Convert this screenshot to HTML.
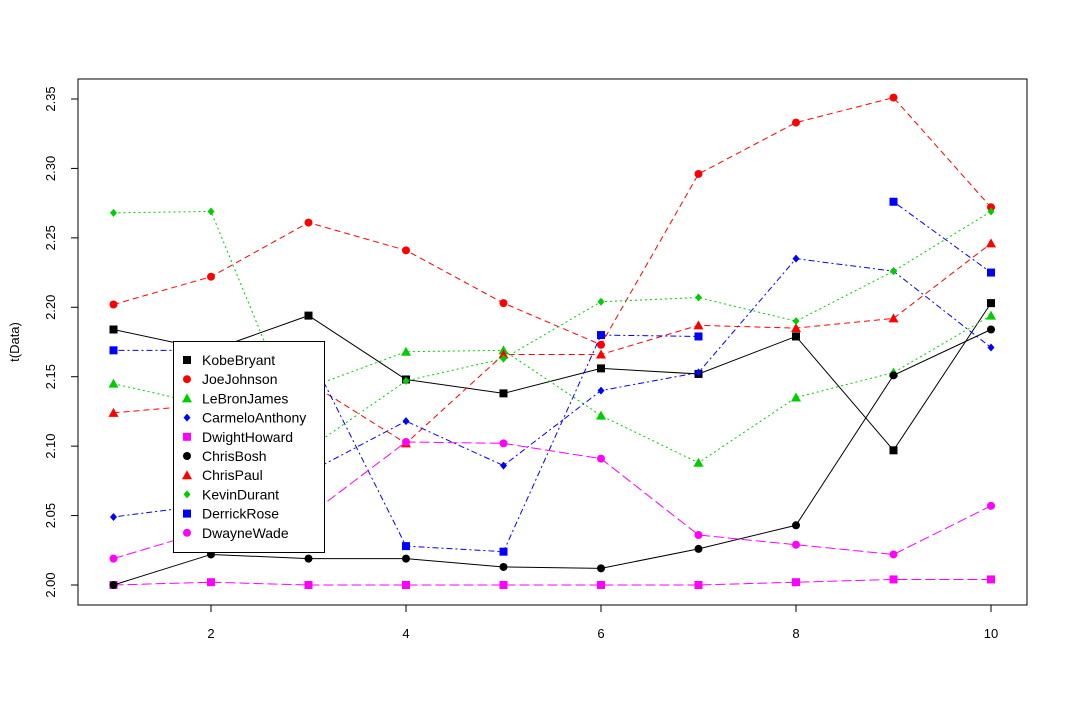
<!DOCTYPE html>
<html><head><meta charset="utf-8"><style>
html,body{margin:0;padding:0;background:#fff;}
svg{display:block;font-family:"Liberation Sans",Arial,sans-serif;}
</style></head><body>
<svg id="chart" width="1067" height="703" viewBox="0 0 1067 703"></svg>
<script>
const xValues=[1,2,3,4,5,6,7,8,9,10];
const kobeBryant=[2.184,2.169,2.194,2.148,2.138,2.156,2.152,2.179,2.097,2.203];
const joeJohnson=[2.202,2.222,2.261,2.241,2.203,2.173,2.296,2.333,2.351,2.272];
const lebronJames=[2.145,2.129,2.142,2.168,2.169,2.122,2.088,2.135,2.153,2.194];
const carmeloAnthony=[2.049,2.058,2.081,2.118,2.086,2.140,2.153,2.235,2.226,2.171];
const dwightHoward=[2.000,2.002,2.000,2.000,2.000,2.000,2.000,2.002,2.004,2.004];
const chrisBosh=[2.000,2.022,2.019,2.019,2.013,2.012,2.026,2.043,2.151,2.184];
const chrisPaul=[2.124,2.130,2.146,2.102,2.166,2.166,2.187,2.185,2.192,2.246];
const kevinDurant=[2.268,2.269,2.098,2.147,2.163,2.204,2.207,2.190,2.226,2.269];
const derrickRose=[2.169,2.169,2.168,2.028,2.024,2.180,2.179,null,2.276,2.225];
const dwayneWade=[2.019,2.040,2.050,2.103,2.102,2.091,2.036,2.029,2.022,2.057];
const seriesNames=["KobeBryant","JoeJohnson","LeBronJames","CarmeloAnthony","DwightHoward","ChrisBosh","ChrisPaul","KevinDurant","DerrickRose","DwayneWade"];
const yTicks=[2.00,2.05,2.10,2.15,2.20,2.25,2.30,2.35];
const xTicks=[2,4,6,8,10];

const NS="http://www.w3.org/2000/svg";
const svg=document.getElementById('chart');
function X(v){return 113.5+(v-1)*97.5;}
function Y(v){return 585-(v-2)*1388.6;}
function mk(t,a,p){const e=document.createElementNS(NS,t);for(const k in a)e.setAttribute(k,a[k]);(p||svg).appendChild(e);return e;}

const styles=[
 {c:"#000000",d:"",p:"sq"},{c:"#ff0000",d:"6 4",p:"ci"},{c:"#00cd00",d:"2 3",p:"tr"},
 {c:"#0000ff",d:"2 3 6 3",p:"di"},{c:"#ff00ff",d:"10 4",p:"sq"},{c:"#000000",d:"",p:"ci"},
 {c:"#ff0000",d:"6 4",p:"tr"},{c:"#00cd00",d:"2 3",p:"di"},{c:"#0000ff",d:"2 3 6 3",p:"sq"},
 {c:"#ff00ff",d:"10 4",p:"ci"}];
const data=[kobeBryant,joeJohnson,lebronJames,carmeloAnthony,dwightHoward,chrisBosh,chrisPaul,kevinDurant,derrickRose,dwayneWade];

function marker(g,type,x,y,c){
 let e;
 if(type==="sq")e=mk('rect',{x:x-4,y:y-4,width:8,height:8,fill:c},g);
 else if(type==="ci")e=mk('circle',{cx:x,cy:y,r:4,fill:c},g);
 else if(type==="tr")e=mk('polygon',{points:`${x},${y-5} ${x+5},${y+4} ${x-5},${y+4}`,fill:c},g);
 else e=mk('polygon',{points:`${x},${y-4} ${x+3.5},${y} ${x},${y+4} ${x-3.5},${y}`,fill:c},g);
 return e;
}

// axes box
const box=mk('rect',{x:78,y:79,width:949,height:526,fill:"none",stroke:"#000","stroke-width":1});



const yAxis=mk('g',{});


mk('line',{x1:78,x2:78,y1:Y(2),y2:Y(2.35),stroke:"#000"},yAxis);
yTicks.forEach(t=>{
 const y=Y(t);
 mk('line',{x1:71,x2:78,y1:y,y2:y,stroke:"#000"},yAxis);
 const tx=mk('text',{x:55,y:y,'font-size':13,'text-anchor':'middle',transform:`rotate(-90 55 ${y})`},yAxis);
 tx.textContent=t.toFixed(2);
 
 
});
const xAxis=mk('g',{});


mk('line',{x1:X(2),x2:X(10),y1:605,y2:605,stroke:"#000"},xAxis);
xTicks.forEach(t=>{
 const x=X(t);
 mk('line',{x1:x,x2:x,y1:605,y2:612,stroke:"#000"},xAxis);
 const tx=mk('text',{x:x,y:638,'font-size':13,'text-anchor':'middle'},xAxis);
 tx.textContent=t;
 
 
});
const yl=mk('text',{x:19,y:342,'font-size':13,'text-anchor':'middle',transform:'rotate(-90 19 342)'});
yl.textContent="t(Data)";



data.forEach((arr,i)=>{
 const s=styles[i];
 const g=mk('g',{});
 
 
 let seg=[];
 const flush=()=>{ if(seg.length>1){const pl=mk('polyline',{points:seg.join(' '),fill:'none',stroke:s.c,'stroke-width':1,'stroke-dasharray':s.d},g);} seg=[]; };
 arr.forEach((v,j)=>{ if(v===null){flush();return;} seg.push(X(xValues[j])+','+Y(v)); });
 flush();
 arr.forEach((v,j)=>{ if(v===null)return;
  const m=marker(g,s.p,X(xValues[j]),Y(v),s.c);
  
  
 });
});

// legend
const lg=mk('g',{});


mk('rect',{x:173.5,y:341.5,width:151,height:211,fill:'#fff',stroke:'#000'},lg);
seriesNames.forEach((n,i)=>{
 const y=360+i*19.2;
 const e=mk('g',{},lg);
 
 
 marker(e,styles[i].p,187,y,styles[i].c);
 const t=mk('text',{x:202,y:y+5,'font-size':14},e);
 t.textContent=n;
});
</script>
</body></html>
